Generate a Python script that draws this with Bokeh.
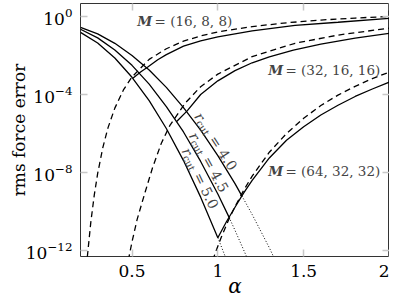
import math
from bokeh.plotting import figure
from bokeh.models import Range1d, LinearAxis, FixedTicker, Label
from bokeh.embed import file_html
from bokeh.resources import INLINE

# ---------------- data ----------------
x_ticks = [0.5, 1.0, 1.5, 2.0]
x_tick_labels = {0.5: "0.5", 1.0: "1", 1.5: "1.5", 2.0: "2"}
y_ticks = [1e-12, 1e-8, 1e-4, 1.0]

# real-space error, r_cut = 4.0 / 4.5 / 5.0 (solid part, then dotted continuation)
rc40_alpha = [0.2, 0.3, 0.4, 0.5, 0.6, 0.7, 0.8, 0.9, 1.0, 1.1, 1.14]
rc40_err = [0.275, 0.126, 4.17e-2, 1.0e-2, 1.78e-3, 2.3e-4, 2.1e-5, 1.5e-6, 7.3e-8, 2.7e-9, 6.4e-10]
rc40_dot_alpha = [1.14, 1.2, 1.3, 1.4]
rc40_dot_err = [6.4e-10, 7.1e-11, 1.4e-12, 1.9e-14]

rc45_alpha = [0.2, 0.3, 0.4, 0.5, 0.6, 0.7, 0.8, 0.9, 1.0, 1.065]
rc45_err = [0.219, 7.9e-2, 1.9e-2, 3.1e-3, 3.4e-4, 2.4e-5, 1.2e-6, 3.7e-8, 7.9e-10, 5.2e-11]
rc45_dot_alpha = [1.065, 1.1, 1.2]
rc45_dot_err = [5.2e-11, 1.1e-11, 1.1e-13]

rc50_alpha = [0.2, 0.3, 0.4, 0.5, 0.6, 0.7, 0.8, 0.9, 1.0]
rc50_err = [0.152, 4.3e-2, 7.4e-3, 7.6e-4, 4.8e-5, 1.8e-6, 4.1e-8, 5.5e-10, 4.6e-12]
rc50_dot_alpha = [1.0, 1.05, 1.1]
rc50_dot_err = [4.6e-12, 3.5e-13, 2.3e-14]

# reciprocal-space error estimates (dashed)
m16_est_alpha = [0.23, 0.24, 0.26, 0.28, 0.30, 0.33, 0.36, 0.40, 0.45, 0.50, 0.6, 0.7, 0.8, 0.9, 1.0, 1.2, 1.4, 1.6, 1.8, 2.0]
m16_est_err = [4.5e-14, 5.0e-13, 2.8e-11, 6.8e-10, 9.0e-9, 1.9e-7, 1.95e-6, 2.0e-5, 1.7e-4, 7.9e-4, 6.3e-3, 2.2e-2, 5.4e-2, 0.10, 0.16, 0.30, 0.47, 0.65, 0.82, 1.0]

m32_est_alpha = [0.47, 0.483, 0.50, 0.53, 0.578, 0.62, 0.671, 0.72, 0.81, 0.9, 1.0, 1.2, 1.45, 1.7, 2.0]
m32_est_err = [1.0e-13, 5.0e-13, 2.8e-12, 4.0e-11, 1.1e-9, 1.8e-8, 3.2e-7, 2.5e-6, 3.6e-5, 2.5e-4, 1.1e-3, 8.7e-3, 4.2e-2, 0.11, 0.25]

m64_est_alpha = [0.97, 0.99, 1.02, 1.06, 1.1, 1.15, 1.2, 1.3, 1.4, 1.5, 1.6, 1.7, 1.8, 1.9, 2.0]
m64_est_err = [3.2e-13, 9.8e-13, 4.8e-12, 3.3e-11, 1.8e-10, 1.2e-9, 6.6e-9, 1.1e-7, 1.0e-6, 6.0e-6, 2.7e-5, 9.3e-5, 2.6e-4, 6.5e-4, 1.4e-3]

# reciprocal-space error, measured (solid)
m16_alpha = [0.505, 0.55, 0.59, 0.65, 0.7, 0.8, 0.9, 1.0, 1.2, 1.45, 1.7, 2.0]
m16_err = [6.8e-4, 1.4e-3, 2.5e-3, 6.0e-3, 1.1e-2, 3.0e-2, 5.6e-2, 8.9e-2, 0.18, 0.35, 0.50, 0.79]

m32_alpha = [0.76, 0.82, 0.9, 1.0, 1.1, 1.2, 1.3, 1.44, 1.6, 1.8, 2.0]
m32_err = [4.1e-6, 1.4e-5, 1.0e-4, 5.0e-4, 1.66e-3, 4.2e-3, 8.5e-3, 1.86e-2, 3.8e-2, 7.6e-2, 0.135]

m64_alpha = [1.0, 1.05, 1.1, 1.15, 1.2, 1.3, 1.4, 1.5, 1.6, 1.7, 1.8, 1.9, 2.0]
m64_err = [4.6e-12, 3.0e-11, 1.66e-10, 8.9e-10, 4.0e-9, 5.6e-8, 4.5e-7, 2.2e-6, 8.9e-6, 2.8e-5, 7.9e-5, 1.9e-4, 4.3e-4]

# annotation texts and anchors (alpha, error on the curve, text angle in degrees)
m_labels = [("(16, 8, 8)", 0.531, 0.556), ("(32, 16, 16)", 1.293, 1.74e-3), ("(64, 32, 32)", 1.293, 1.23e-8)]
rc_labels = [("4.0", 0.847, 6.3e-6, -57), ("4.5", 0.817, 6.6e-7, -61), ("5.0", 0.774, 1.15e-7, -64)]
y_title = "rms force error"
x_title = "α"

# ---------------- figure ----------------
FONT = "DejaVu Serif"
NB = "\u00a0"
p = figure(width=389, height=300, x_range=Range1d(0.2, 2.0), y_range=Range1d(5.0e-13, 4.57),
           y_axis_type="log", output_backend="svg", toolbar_location=None,
           min_border_left=80, min_border_right=0, min_border_top=3, min_border_bottom=43)
p.xgrid.visible = False
p.ygrid.visible = False
p.outline_line_color = "#333333"
p.outline_line_width = 1
p.background_fill_color = "white"
p.border_fill_color = "white"

def style_axis(ax, labels=True):
    ax.axis_line_color = None
    ax.major_tick_in = 7
    ax.major_tick_out = 0
    ax.major_tick_line_color = "#c8c8c8"
    ax.major_tick_line_width = 1.5
    ax.minor_tick_line_color = None
    ax.major_label_text_font = FONT
    if labels:
        ax.major_label_text_color = "black"
        ax.major_label_text_font_size = "17px"
        ax.major_label_standoff = 8
    else:
        ax.major_label_text_color = None
        ax.major_label_text_font_size = "1px"
        ax.major_label_standoff = 0

xb = p.below[0]
xb.ticker = FixedTicker(ticks=x_ticks)
xb.major_label_overrides = x_tick_labels
style_axis(xb)
xb.axis_label = x_title
xb.axis_label_text_font = FONT
xb.axis_label_text_font_style = "italic"
xb.axis_label_text_font_size = "20px"
xb.axis_label_text_color = "black"
xb.axis_label_standoff = -6

yl = p.left[0]
yl.ticker = FixedTicker(ticks=y_ticks)
style_axis(yl)
yl.axis_label = y_title
yl.axis_label_text_font = FONT
yl.axis_label_text_font_style = "normal"
yl.axis_label_text_font_size = "17px"
yl.axis_label_text_color = "black"
yl.axis_label_standoff = -6

xt = LinearAxis(ticker=FixedTicker(ticks=x_ticks), major_label_overrides={t: "" for t in x_ticks})
style_axis(xt, labels=False)
p.add_layout(xt, "above")
yr = LinearAxis(ticker=FixedTicker(ticks=y_ticks), major_label_overrides={t: "" for t in y_ticks})
style_axis(yr, labels=False)
p.add_layout(yr, "right")

# ---------------- curves ----------------
for a, e in [(rc40_dot_alpha, rc40_dot_err), (rc45_dot_alpha, rc45_dot_err), (rc50_dot_alpha, rc50_dot_err)]:
    p.line(a, e, line_color="black", line_width=1.0, line_dash="1 2")
for a, e in [(m16_est_alpha, m16_est_err), (m32_est_alpha, m32_est_err), (m64_est_alpha, m64_est_err)]:
    p.line(a, e, line_color="black", line_width=1.3, line_dash="6 4")
for a, e in [(rc40_alpha, rc40_err), (rc45_alpha, rc45_err), (rc50_alpha, rc50_err),
             (m16_alpha, m16_err), (m32_alpha, m32_err), (m64_alpha, m64_err)]:
    p.line(a, e, line_color="black", line_width=1.3)

# ---------------- labels ----------------
for txt, ax_, ay_ in m_labels:
    p.add_layout(Label(x=ax_, y=ay_, text="M", text_font=FONT, text_font_style="bold italic",
                       text_font_size="13.5px", text_baseline="middle", text_align="left"))
    p.add_layout(Label(x=ax_, y=ay_, x_offset=13, text=NB + "=" + NB + txt, text_font=FONT,
                       text_font_size="13.5px", text_baseline="middle", text_align="left"))

GAP = 7.5  # distance of the label's centre line from its curve (px)
for txt, ax_, ay_, ang in rc_labels:
    th = math.radians(ang)
    ux, uy = math.cos(th), math.sin(th)
    bx, by = math.sin(th), -math.cos(th)      # towards the text's lower side
    ox, oy = -GAP * bx, -GAP * by              # shift to the upper/right side of the curve
    pieces = [("r", 0, 0, "14px", "italic"), ("cut", 6.5, 3.5, "10px", "normal"),
              (NB + "=" + NB + txt, 23, 0, "14px", "normal")]
    for t, s, d, fs, st in pieces:
        p.add_layout(Label(x=ax_, y=ay_, x_offset=ox + s * ux + d * bx, y_offset=oy + s * uy + d * by,
                           text=t, angle=th, text_font=FONT, text_font_size=fs, text_font_style=st,
                           text_baseline="middle", text_align="left"))

open("out.html", "w").write(file_html(p, INLINE))
